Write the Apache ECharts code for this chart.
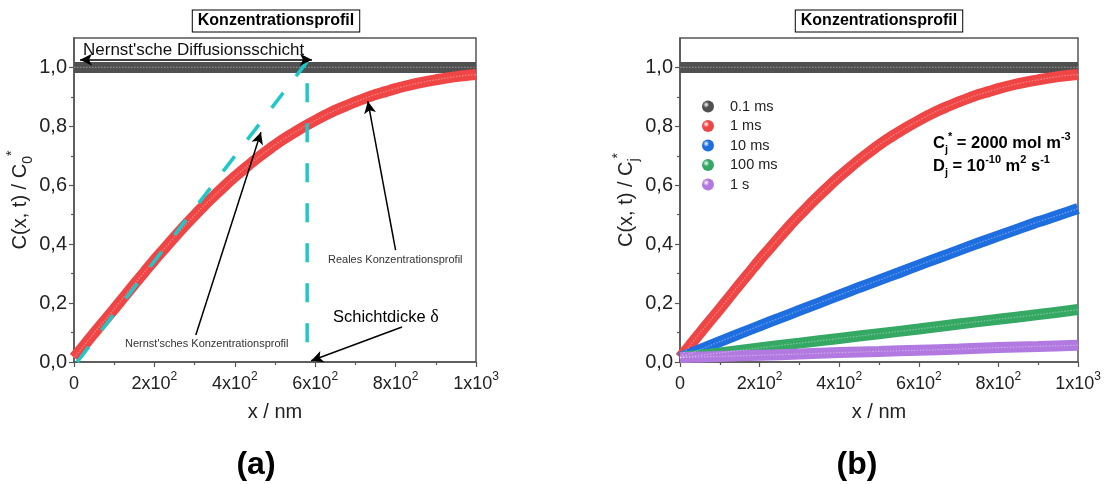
<!DOCTYPE html>
<html><head><meta charset="utf-8">
<script src="https://cdn.jsdelivr.net/npm/echarts@6/dist/echarts.min.js"></script>
<style>html,body{margin:0;padding:0;background:#fff}#c{width:1105px;height:484px}</style>
</head><body><div id="c"></div>
<script>
// ---------- data ----------
const x25 = [0,25,50,75,100,125,150,175,200,225,250,275,300,325,350,375,400,425,450,475,500,525,550,575,600,625,650,675,700,725,750,775,800,825,850,875,900,925,950,975,1000];
const x50 = [0,50,100,150,200,250,300,350,400,450,500,550,600,650,700,750,800,850,900,950,1000];
const x100 = [0,100,200,300,400,500,600,700,800,900,1000];

const grey01ms = [1.0,1.0,1.0,1.0,1.0,1.0,1.0,1.0,1.0,1.0,1.0];          // on x100
const red1ms = [0.015,0.056,0.098,0.139,0.180,0.222,0.264,0.305,0.346,0.385,0.424,0.462,0.498,0.533,0.566,0.598,0.629,0.658,0.686,0.712,0.737,0.760,0.781,0.801,0.820,0.838,0.855,0.869,0.883,0.896,0.908,0.918,0.928,0.937,0.945,0.952,0.958,0.964,0.969,0.973,0.976]; // on x25
const blue10ms = [0.015,0.042,0.069,0.096,0.123,0.149,0.175,0.201,0.227,0.253,0.278,0.303,0.329,0.354,0.379,0.404,0.428,0.452,0.476,0.498,0.521]; // on x50
const green100ms = [0.015,0.031,0.048,0.064,0.080,0.096,0.112,0.129,0.145,0.161,0.178]; // on x100
const purple1s = [0.015,0.019,0.023,0.027,0.032,0.036,0.040,0.044,0.049,0.053,0.057];   // on x100

// Nernst linear profile (dashed): start, layer edge at top, layer edge at bottom
const nernstX = [8, 580, 580];
const nernstY = [0.0, 1.02, 0.0];

const seriesNames = ['0.1 ms','1 ms','10 ms','100 ms','1 s'];
const xTickLabels = {0:'{n|0}',200:'{n|2x10}{s|2}',400:'{n|4x10}{s|2}',600:'{n|6x10}{s|2}',800:'{n|8x10}{s|2}',1000:'{n|1x10}{s|3}'};
const yMajorTicks = [0,0.2,0.4,0.6,0.8,1.0];
const yMinorTicks = [0.1,0.3,0.5,0.7,0.9];

// ---------- styling ----------
const FONT = '"Liberation Sans", Arial, sans-serif';
const COL = {grey:'#505050', red:'#f04545', blue:'#1f6ee0', green:'#35a864', purple:'#b27ae0', cyan:'#1cc8c8'};
const seriesColors = [COL.grey, COL.red, COL.blue, COL.green, COL.purple];
const GRID_W = [402, 398];
const zip = (xs, ys) => xs.map((x,i)=>[x, ys[i]]);

const tickRich = {
  n:{fontSize:18, color:'#222', fontFamily:FONT, lineHeight:26},
  s:{fontSize:12, color:'#222', fontFamily:FONT, verticalAlign:'top', lineHeight:14}
};
function xAxisCfg(gi){
  return {type:'value', gridIndex:gi, min:0, max:1000, interval:200,
    name:'x / nm', nameLocation:'middle', nameGap:40,
    nameTextStyle:{fontSize:20, color:'#222', fontFamily:FONT},
    axisLine:{show:true, lineStyle:{color:'#555', width:1.5}},
    axisTick:{show:true, inside:false, length:5, lineStyle:{color:'#555', width:1.2}},
    minorTick:{show:true, splitNumber:2, length:3, lineStyle:{color:'#555', width:1.2}},
    splitLine:{show:false},
    axisLabel:{margin:9, formatter:v=>xTickLabels[v]||'', rich:tickRich}};
}
function yAxisCfg(gi, sub){
  return {type:'value', gridIndex:gi, min:0, max:1.1, position:'left',
    name:'{n|C(x, t) / C}{b|'+sub+'}{p|*}', nameLocation:'middle', nameGap:38,
    nameTextStyle:{color:'#222', rich:{
      n:{fontSize:20, fontFamily:FONT, color:'#222', lineHeight:30},
      b:{fontSize:14, fontFamily:FONT, color:'#222', verticalAlign:'bottom', lineHeight:16},
      p:{fontSize:14, fontFamily:FONT, color:'#222', verticalAlign:'top', lineHeight:16}}},
    axisLine:{show:true, lineStyle:{color:'#555', width:1.5}},
    axisTick:{show:true, inside:false, length:5, customValues:yMajorTicks, lineStyle:{color:'#555', width:1.2}},
    splitLine:{show:false},
    axisLabel:{margin:7, fontSize:20, color:'#222', fontFamily:FONT, customValues:yMajorTicks,
      formatter:v=>v.toFixed(1).replace('.', ',')}};
}
// minor ticks: a label-less axis placed on the right, shifted back onto the left edge
function yMinorCfg(gi){
  return {type:'value', gridIndex:gi, min:0, max:1.1, position:'right', offset:-GRID_W[gi],
    axisLine:{show:false}, splitLine:{show:false}, axisLabel:{show:false},
    axisTick:{show:true, inside:true, length:3, customValues:yMinorTicks, lineStyle:{color:'#555', width:1.2}}};
}
function thick(name, gi, data, color, z){
  return {name, type:'line', xAxisIndex:gi, yAxisIndex:gi, data, smooth:0.3,
    showSymbol:false, symbol:'none', z, silent:true,
    lineStyle:{color, width:11, cap:'butt'}, itemStyle:{color}};
}
function shine(gi, data, z){
  return {type:'line', xAxisIndex:gi, yAxisIndex:gi, data, smooth:0.3, symbol:'none', z, silent:true,
    lineStyle:{color:'rgba(255,255,255,0.35)', width:1.2, type:[1.5,1.5]}};
}
function sphere(c){
  return new echarts.graphic.RadialGradient(0.35,0.35,0.75,[
    {offset:0,color:'#ffffff'},{offset:0.35,color:c},{offset:1,color:c}]);
}
function arrow(a,b,both){
  return [{coord:a, symbol: both?'arrow':'none', symbolSize:[9,12]},
          {coord:b, symbol:'arrow', symbolSize:[9,12]}];
}
const subRich = (fs)=>({
  n:{fontSize:fs, fontWeight:'bold', fontFamily:FONT, color:'#000', lineHeight:24},
  b:{fontSize:11, fontWeight:'bold', fontFamily:FONT, color:'#000', verticalAlign:'bottom', lineHeight:12},
  p:{fontSize:11, fontWeight:'bold', fontFamily:FONT, color:'#000', verticalAlign:'top', lineHeight:12}});

const chart = echarts.init(document.getElementById('c'), null, {renderer:'canvas'});
chart.setOption({
  animation:false,
  grid:[
    {left:74, top:38, width:GRID_W[0], height:324, show:true, borderColor:'#555', borderWidth:1.5, backgroundColor:'transparent'},
    {left:680, top:38, width:GRID_W[1], height:324, show:true, borderColor:'#555', borderWidth:1.5, backgroundColor:'transparent'}
  ],
  xAxis:[xAxisCfg(0), xAxisCfg(1)],
  yAxis:[yAxisCfg(0,'0'), yAxisCfg(1,'j'), yMinorCfg(0), yMinorCfg(1)],
  legend:{
    data: seriesNames.map((n,i)=>({name:n, icon:'circle', itemStyle:{color:sphere(seriesColors[i])}})),
    orient:'vertical', left:697, top:94, itemWidth:12, itemHeight:12, itemGap:4.5,
    selectedMode:false,
    textStyle:{fontSize:14.5, color:'#222', fontFamily:FONT, padding:[0,0,0,11]}
  },
  series:[
    // panel (a)
    thick('a-grey', 0, zip(x100, grey01ms), COL.grey, 2),
    shine(0, zip(x100, grey01ms), 3),
    thick('a-red', 0, zip(x25, red1ms), COL.red, 2),
    shine(0, zip(x25, red1ms), 3),
    {name:'a-nernst', type:'line', xAxisIndex:0, yAxisIndex:0, data:zip(nernstX, nernstY),
      symbol:'none', z:4, silent:true,
      lineStyle:{color:COL.cyan, width:3.5, type:[19,21]},
      markLine:{silent:true, z:5, label:{show:false},
        lineStyle:{color:'#000', width:1.5, type:'solid'},
        emphasis:{disabled:true},
        data:[
          arrow([15,1.026],[592,1.026],true),
          arrow([800,0.38],[731,0.885],false),
          arrow([303,0.092],[465,0.78],false),
          arrow([816,0.119],[590,0.004],false)
        ]}},
    // panel (b)
    thick(seriesNames[0], 1, zip(x100, grey01ms), COL.grey, 2),
    shine(1, zip(x100, grey01ms), 3),
    thick(seriesNames[1], 1, zip(x25, red1ms), COL.red, 2),
    shine(1, zip(x25, red1ms), 3),
    thick(seriesNames[2], 1, zip(x50, blue10ms), COL.blue, 2),
    shine(1, zip(x50, blue10ms), 3),
    thick(seriesNames[3], 1, zip(x100, green100ms), COL.green, 2),
    shine(1, zip(x100, green100ms), 3),
    thick(seriesNames[4], 1, zip(x100, purple1s), COL.purple, 2),
    shine(1, zip(x100, purple1s), 3)
  ],
  graphic:[
    {type:'text', x:276, y:21, z:10, style:{text:'Konzentrationsprofil', font:'bold 16px '+FONT, fill:'#000',
      align:'center', verticalAlign:'middle', borderColor:'#000', borderWidth:1, padding:[3,5,2,5], backgroundColor:'#fff'}},
    {type:'text', x:879, y:21, z:10, style:{text:'Konzentrationsprofil', font:'bold 16px '+FONT, fill:'#000',
      align:'center', verticalAlign:'middle', borderColor:'#000', borderWidth:1, padding:[3,5,2,5], backgroundColor:'#fff'}},
    {type:'text', x:83, y:50, z:10, style:{text:"Nernst'sche Diffusionsschicht", font:'17px '+FONT, fill:'#111', verticalAlign:'middle'}},
    {type:'text', x:328, y:260, z:10, style:{text:'Reales Konzentrationsprofil', font:'11px '+FONT, fill:'#333', verticalAlign:'middle'}},
    {type:'text', x:125, y:344, z:10, style:{text:"Nernst'sches Konzentrationsprofil", font:'11px '+FONT, fill:'#333', verticalAlign:'middle'}},
    {type:'text', x:333, y:317, z:10, style:{text:'{a|Schichtdicke }{d|δ}', verticalAlign:'middle',
      rich:{a:{fontSize:16.5, fontFamily:FONT, color:'#111'}, d:{fontSize:18, fontFamily:'"Liberation Serif", serif', color:'#111'}}}},
    {type:'text', x:933, y:143, z:10, style:{text:'{n|C}{b|j}{p|*}{n| = 2000 mol m}{p|-3}', verticalAlign:'middle', rich:subRich(16.5)}},
    {type:'text', x:933, y:166, z:10, style:{text:'{n|D}{b|j}{n| = 10}{p|-10}{n| m}{p|2}{n| s}{p|-1}', verticalAlign:'middle', rich:subRich(16.5)}},
    {type:'text', x:256, y:465, z:10, style:{text:'(a)', font:'bold 32px '+FONT, fill:'#000', align:'center', verticalAlign:'middle'}},
    {type:'text', x:857, y:465, z:10, style:{text:'(b)', font:'bold 32px '+FONT, fill:'#000', align:'center', verticalAlign:'middle'}}
  ]
});
</script>
</body></html>
